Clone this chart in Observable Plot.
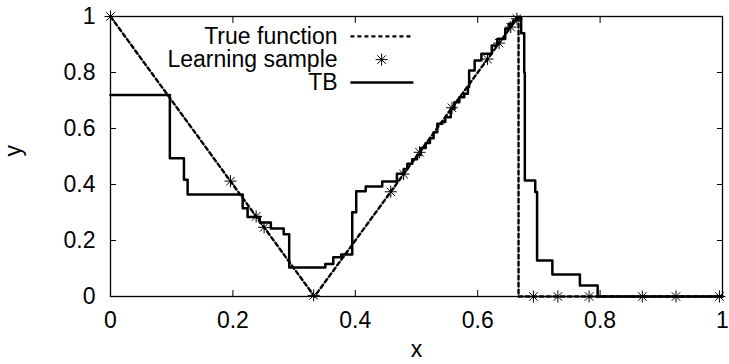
<!DOCTYPE html>
<html>
<head>
<meta charset="utf-8">
<script src="https://cdn.jsdelivr.net/npm/d3@7"></script>
<script src="https://cdn.jsdelivr.net/npm/@observablehq/plot@0.6"></script>
<style>
  html, body { margin: 0; padding: 0; background: #fff; }
  #chart svg { display: block; }
</style>
</head>
<body>
<div id="chart"></div>
<script>
// ---- data ----
const xTicks = [0, 0.2, 0.4, 0.6, 0.8, 1];
const yTicks = [0, 0.2, 0.4, 0.6, 0.8, 1];

// True function (piecewise linear vertices)
const trueX = [0, 0.3333, 0.6667, 0.6667, 1];
const trueY = [1, 0, 1, 0, 0];

// Learning sample
const sampleX = [0, 0.196, 0.238, 0.251, 0.332, 0.458, 0.479, 0.505, 0.558, 0.616, 0.635, 0.654, 0.664, 0.691, 0.731, 0.782, 0.869, 0.924, 0.995];
const sampleY = [1, 0.412, 0.286, 0.247, 0.004, 0.374, 0.437, 0.515, 0.674, 0.848, 0.905, 0.962, 0.992, 0, 0, 0, 0, 0, 0];

// TB (step function, value holds from x to the next x)
const tbX = [0, 0.097, 0.120, 0.126, 0.216, 0.224, 0.244, 0.262, 0.283, 0.292, 0.351, 0.364, 0.377, 0.395, 0.4015, 0.417, 0.444, 0.468, 0.479, 0.485, 0.493, 0.501, 0.507, 0.515, 0.522, 0.528, 0.534, 0.542, 0.547, 0.556, 0.562, 0.570, 0.578, 0.584, 0.586, 0.595, 0.606, 0.623, 0.632, 0.645, 0.651, 0.658, 0.663, 0.671, 0.676, 0.677, 0.694, 0.697, 0.722, 0.767, 0.796, 1];
const tbY = [0.720, 0.494, 0.417, 0.364, 0.315, 0.284, 0.264, 0.243, 0.222, 0.104, 0.116, 0.140, 0.150, 0.301, 0.376, 0.393, 0.411, 0.438, 0.455, 0.474, 0.490, 0.505, 0.530, 0.548, 0.565, 0.587, 0.617, 0.623, 0.640, 0.670, 0.694, 0.712, 0.724, 0.748, 0.807, 0.843, 0.867, 0.896, 0.920, 0.956, 0.974, 0.986, 0.995, 0.940, 0.800, 0.414, 0.373, 0.129, 0.079, 0.039, 0, 0];

// Legend
const legendLabels = ["True function", "Learning sample", "TB"];
const legendTextX = 0.371;
const legendRowY = [0.929, 0.846, 0.764];
const legendLineX = [0.392, 0.495];
const legendStarX = 0.443;

// ---- build ----
const trueData = trueX.map((x, i) => ({x, y: trueY[i]}));
const sampleData = sampleX.map((x, i) => ({x, y: sampleY[i]}));
const tbData = tbX.map((x, i) => ({x, y: tbY[i]}));

const star = {
  draw(context, size) {
    const r = Math.sqrt(size / Math.PI);
    const d = r * Math.SQRT1_2;
    context.moveTo(-r, 0); context.lineTo(r, 0);
    context.moveTo(0, -r); context.lineTo(0, r);
    context.moveTo(-d, -d); context.lineTo(d, d);
    context.moveTo(-d, d); context.lineTo(d, -d);
  }
};

const font = "'Liberation Sans', Arial, Helvetica, sans-serif";
const fs = 23;

const legendLines = [
  {x1: legendLineX[0], x2: legendLineX[1]},
  {x1: legendLineX[0], x2: legendLineX[1]}
];

const chart = Plot.plot({
  width: 729,
  height: 364,
  marginLeft: 110,
  marginRight: 7,
  marginTop: 16,
  marginBottom: 68,
  style: {fontFamily: font, fontSize: fs + "px", background: "#fff", color: "#000"},
  x: {domain: [0, 1]},
  y: {domain: [0, 1]},
  marks: [
    Plot.axisX({ticks: xTicks, tickFormat: d => String(d), tickSize: -6, tickPadding: 21, label: null, fontSize: fs, stroke: "#000"}),
    Plot.axisX({ticks: xTicks, anchor: "top", tickSize: -6, text: null, label: null}),
    Plot.axisY({ticks: yTicks, tickFormat: d => String(d), tickSize: -6, tickPadding: 21, label: null, fontSize: fs}),
    Plot.axisY({ticks: yTicks, anchor: "right", tickSize: -6, text: null, label: null}),
    Plot.frame({stroke: "#000", strokeWidth: 1.3}),
    Plot.line(trueData, {x: "x", y: "y", stroke: "#000", strokeWidth: 2.4, strokeDasharray: "4,3"}),
    Plot.line(tbData, {x: "x", y: "y", curve: "step-after", stroke: "#000", strokeWidth: 2.5}),
    Plot.dot(sampleData, {x: "x", y: "y", symbol: star, r: 6, fill: "none", stroke: "#000", strokeWidth: 1}),
    // axis labels
    Plot.text(["x"], {frameAnchor: "bottom", dy: 60, fontSize: fs, fill: "#000"}),
    Plot.text(["y"], {frameAnchor: "left", dx: -97, rotate: -90, fontSize: fs, fill: "#000"}),
    // legend
    Plot.text(legendLabels, {x: () => legendTextX, y: (d, i) => legendRowY[i], text: d => d, textAnchor: "end", fontSize: fs, fill: "#000"}),
    Plot.link([legendLines[0]], {x1: "x1", x2: "x2", y1: () => legendRowY[0], y2: () => legendRowY[0], stroke: "#000", strokeWidth: 2.4, strokeDasharray: "4,3"}),
    Plot.link([legendLines[1]], {x1: "x1", x2: "x2", y1: () => legendRowY[2], y2: () => legendRowY[2], stroke: "#000", strokeWidth: 2.5}),
    Plot.dot([{x: legendStarX, y: legendRowY[1]}], {x: "x", y: "y", symbol: star, r: 6, fill: "none", stroke: "#000", strokeWidth: 1})
  ]
});
document.getElementById("chart").appendChild(chart);
</script>
</body>
</html>
